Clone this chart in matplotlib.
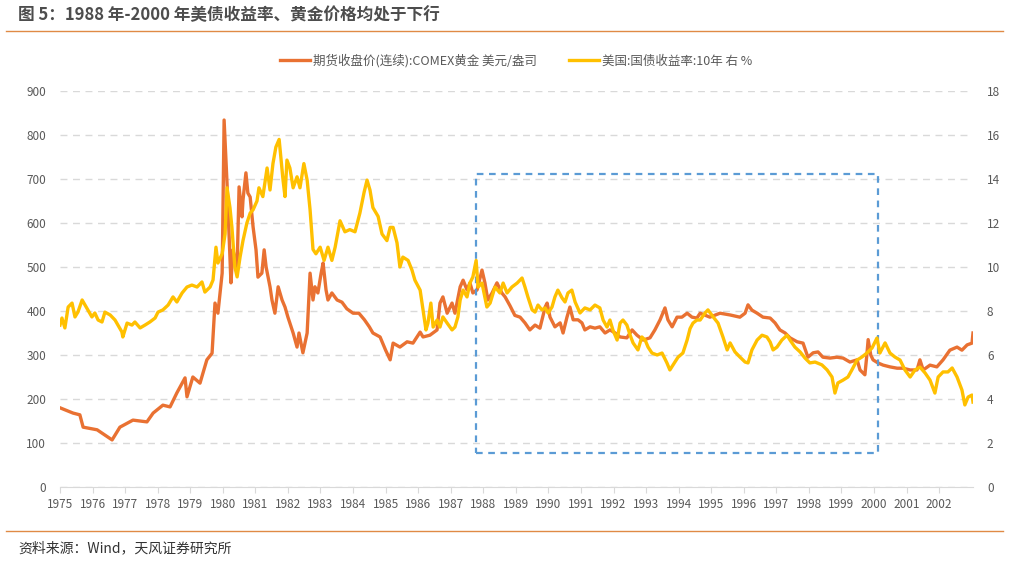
import matplotlib
matplotlib.use("Agg")
import matplotlib.pyplot as plt
from matplotlib.patches import Rectangle

plt.rcParams['font.family'] = ['Noto Sans CJK SC', 'DejaVu Sans']

# COMEX gold, USD/oz (year, value)
gold_t = [1975.00, 1975.40, 1975.61, 1975.71, 1976.14, 1976.60, 1976.84, 1977.24, 1977.67, 1977.86,
          1978.16, 1978.38, 1978.59, 1978.84, 1978.90, 1979.08, 1979.30, 1979.51, 1979.67, 1979.76,
          1979.85, 1979.98, 1980.04, 1980.13, 1980.19, 1980.25, 1980.31, 1980.44, 1980.50, 1980.59,
          1980.62, 1980.71, 1980.77, 1980.84, 1980.93, 1981.02, 1981.08, 1981.20, 1981.27, 1981.33,
          1981.45, 1981.51, 1981.60, 1981.70, 1981.82, 1981.91, 1982.00, 1982.16, 1982.28, 1982.34,
          1982.46, 1982.59, 1982.68, 1982.77, 1982.83, 1982.92, 1983.02, 1983.08, 1983.17, 1983.23,
          1983.35, 1983.51, 1983.66, 1983.81, 1984.00, 1984.18, 1984.35, 1984.50, 1984.61, 1984.83,
          1985.00, 1985.14, 1985.23, 1985.44, 1985.66, 1985.84, 1986.06, 1986.15, 1986.36, 1986.58,
          1986.67, 1986.76, 1986.89, 1987.04, 1987.13, 1987.29, 1987.38, 1987.50, 1987.59, 1987.68,
          1987.81, 1987.96, 1988.05, 1988.14, 1988.27, 1988.42, 1988.57, 1988.67, 1988.82, 1988.97,
          1989.13, 1989.28, 1989.43, 1989.59, 1989.74, 1989.90, 1989.96, 1990.05, 1990.20, 1990.36,
          1990.45, 1990.57, 1990.66, 1990.76, 1990.91, 1991.03, 1991.12, 1991.28, 1991.43, 1991.58,
          1991.74, 1991.89, 1992.05, 1992.20, 1992.41, 1992.57, 1992.72, 1992.91, 1993.12, 1993.27,
          1993.43, 1993.58, 1993.67, 1993.80, 1993.95, 1994.10, 1994.26, 1994.41, 1994.56, 1994.66,
          1994.96, 1995.27, 1995.58, 1995.88, 1996.04, 1996.13, 1996.25, 1996.41, 1996.59, 1996.81,
          1996.96, 1997.11, 1997.27, 1997.42, 1997.64, 1997.82, 1997.97, 1998.13, 1998.28, 1998.43,
          1998.65, 1998.86, 1999.05, 1999.26, 1999.48, 1999.57, 1999.72, 1999.78, 1999.82, 1999.90,
          1999.97, 2000.12, 2000.28, 2000.49, 2000.71, 2000.89, 2001.11, 2001.32, 2001.41, 2001.51,
          2001.72, 2001.93, 2002.12, 2002.33, 2002.55, 2002.70, 2002.86, 2003.01, 2003.04]
gold_v = [180, 168, 164, 136, 130, 107, 136, 152, 148, 168,
          186, 182, 214, 248, 205, 250, 236, 289, 304, 418,
          395, 486, 834, 690, 577, 464, 539, 500, 682, 614,
          652, 714, 668, 659, 591, 539, 477, 486, 539, 500,
          455, 425, 395, 455, 425, 409, 386, 350, 318, 350,
          305, 350, 486, 425, 455, 441, 486, 509, 448, 425,
          441, 425, 420, 405, 395, 395, 380, 364, 350, 341,
          311, 289, 327, 318, 330, 327, 352, 341, 345, 357,
          418, 432, 395, 418, 395, 455, 470, 448, 464, 441,
          448, 493, 464, 425, 441, 464, 441, 432, 412, 390,
          386, 373, 357, 368, 361, 409, 418, 386, 364, 373,
          350, 386, 409, 380, 380, 373, 357, 364, 361, 364,
          350, 357, 350, 341, 339, 357, 345, 334, 339, 357,
          380, 407, 380, 364, 386, 386, 395, 386, 384, 395,
          386, 395, 391, 386, 395, 414, 402, 395, 386, 384,
          373, 357, 350, 339, 330, 327, 295, 305, 307, 295,
          293, 295, 293, 284, 289, 266, 255, 300, 335, 300,
          289, 282, 277, 273, 270, 270, 266, 266, 289, 266,
          277, 273, 289, 311, 318, 311, 323, 327, 350]

# US 10Y treasury yield, % (year, value)
ust_t = [1975.00, 1975.06, 1975.15, 1975.25, 1975.37, 1975.46, 1975.55, 1975.68, 1975.77, 1975.86,
         1975.98, 1976.07, 1976.17, 1976.29, 1976.38, 1976.54, 1976.69, 1976.78, 1976.90, 1976.93,
         1977.06, 1977.21, 1977.30, 1977.46, 1977.61, 1977.76, 1977.92, 1978.01, 1978.16, 1978.32,
         1978.47, 1978.59, 1978.75, 1978.90, 1979.05, 1979.21, 1979.36, 1979.45, 1979.61, 1979.70,
         1979.79, 1979.85, 1979.98, 1980.07, 1980.13, 1980.22, 1980.28, 1980.37, 1980.44, 1980.53,
         1980.62, 1980.74, 1980.84, 1980.93, 1981.05, 1981.11, 1981.23, 1981.36, 1981.45, 1981.54,
         1981.63, 1981.73, 1981.85, 1981.91, 1981.97, 1982.06, 1982.16, 1982.28, 1982.37, 1982.49,
         1982.59, 1982.68, 1982.77, 1982.86, 1982.99, 1983.11, 1983.23, 1983.35, 1983.45, 1983.60,
         1983.75, 1983.90, 1984.06, 1984.21, 1984.34, 1984.43, 1984.52, 1984.61, 1984.77, 1984.89,
         1985.04, 1985.14, 1985.23, 1985.35, 1985.44, 1985.53, 1985.69, 1985.81, 1985.90, 1986.06,
         1986.15, 1986.24, 1986.30, 1986.39, 1986.46, 1986.58, 1986.67, 1986.76, 1986.89, 1987.04,
         1987.13, 1987.22, 1987.29, 1987.38, 1987.50, 1987.59, 1987.68, 1987.78, 1987.84, 1987.96,
         1988.11, 1988.21, 1988.36, 1988.51, 1988.61, 1988.73, 1988.88, 1989.04, 1989.19, 1989.28,
         1989.37, 1989.50, 1989.59, 1989.68, 1989.80, 1989.90, 1989.99, 1990.11, 1990.20, 1990.29,
         1990.42, 1990.51, 1990.60, 1990.72, 1990.82, 1990.97, 1991.12, 1991.28, 1991.43, 1991.58,
         1991.68, 1991.80, 1991.89, 1991.98, 1992.11, 1992.20, 1992.29, 1992.41, 1992.51, 1992.60,
         1992.75, 1992.87, 1992.97, 1993.06, 1993.18, 1993.34, 1993.49, 1993.64, 1993.73, 1993.83,
         1993.98, 1994.13, 1994.26, 1994.35, 1994.44, 1994.56, 1994.66, 1994.81, 1994.90, 1995.06,
         1995.21, 1995.36, 1995.49, 1995.58, 1995.73, 1995.88, 1996.04, 1996.13, 1996.25, 1996.41,
         1996.56, 1996.71, 1996.81, 1996.90, 1997.02, 1997.17, 1997.33, 1997.42, 1997.57, 1997.73,
         1997.88, 1998.03, 1998.19, 1998.40, 1998.56, 1998.71, 1998.80, 1998.89, 1999.05, 1999.20,
         1999.32, 1999.48, 1999.63, 1999.78, 1999.94, 2000.09, 2000.18, 2000.34, 2000.49, 2000.64,
         2000.80, 2000.95, 2001.11, 2001.26, 2001.41, 2001.57, 2001.72, 2001.87, 2001.97, 2002.12,
         2002.27, 2002.40, 2002.55, 2002.70, 2002.79, 2002.89, 2003.01, 2003.04]
ust_v = [7.36, 7.68, 7.23, 8.18, 8.36, 7.73, 7.95, 8.50, 8.27, 8.05,
         7.73, 7.91, 7.59, 7.50, 7.95, 7.82, 7.59, 7.36, 7.05, 6.82,
         7.45, 7.36, 7.50, 7.23, 7.36, 7.50, 7.68, 7.95, 8.05, 8.27,
         8.64, 8.41, 8.82, 9.09, 9.18, 9.09, 9.32, 8.86, 9.09, 9.41,
         10.9, 10.18, 10.6, 11.5, 13.6, 12.7, 11.8, 10.0, 9.55, 10.45,
         11.2, 12.0, 12.45, 12.6, 13.0, 13.6, 13.2, 14.5, 13.5, 14.7,
         15.45, 15.8, 13.95, 13.2, 14.86, 14.5, 13.6, 14.1, 13.6, 14.7,
         13.95, 12.6, 10.8, 10.6, 10.9, 10.3, 10.9, 10.3, 10.9, 12.1,
         11.6, 11.7, 11.6, 12.45, 13.4, 13.95, 13.5, 12.7, 12.3, 11.5,
         11.2, 11.8, 11.8, 11.1, 10.0, 10.45, 10.3, 9.86, 9.4, 8.95,
         8.05, 7.14, 7.45, 8.36, 7.27, 7.59, 7.27, 7.73, 7.45, 7.14,
         7.27, 7.73, 8.5, 8.95, 8.64, 9.27, 9.55, 10.3, 9.09, 9.27,
         8.18, 8.36, 9.09, 8.82, 9.27, 8.82, 9.09, 9.27, 9.5, 9.09,
         8.64, 8.05, 7.95, 8.27, 8.05, 8.14, 7.91, 8.18, 8.64, 8.95,
         8.59, 8.41, 8.82, 8.95, 8.41, 7.91, 8.14, 8.05, 8.27, 8.14,
         7.59, 7.27, 7.59, 7.14, 6.68, 7.45, 7.59, 7.36, 6.9, 6.55,
         6.23, 6.82, 6.68, 6.36, 6.09, 6.0, 6.09, 5.64, 5.32, 5.55,
         5.9, 6.09, 6.68, 7.2, 7.45, 7.59, 7.59, 7.91, 8.05, 7.73,
         7.45, 6.82, 6.23, 6.55, 6.14, 5.91, 5.68, 5.64, 6.23, 6.68,
         6.9, 6.82, 6.59, 6.23, 6.36, 6.68, 6.9, 6.68, 6.36, 6.14,
         5.86, 5.64, 5.68, 5.55, 5.32, 5.0, 4.27, 4.73, 4.86, 5.0,
         5.32, 5.77, 5.91, 6.09, 6.32, 6.77, 6.09, 6.55, 6.09, 5.91,
         5.77, 5.32, 5.0, 5.32, 5.45, 5.18, 4.86, 4.27, 5.0, 5.23,
         5.23, 5.41, 5.0, 4.41, 3.73, 4.09, 4.18, 3.86]

years = list(range(1975, 2003))
title = '图 5：1988 年-2000 年美债收益率、黄金价格均处于下行'
source = '资料来源：Wind，天风证券研究所'
gold_label = '期货收盘价(连续):COMEX黄金 美元/盎司'
ust_label = '美国:国债收益率:10年 右 %'

orange = '#E97132'
yellow = '#FFC000'
grey_txt = '#595959'
grid_c = '#D9D9D9'
rule_c = '#E08A45'

fig = plt.figure(figsize=(10.2, 5.65), dpi=100)
ax1 = fig.add_axes([60 / 1020, 1 - 487 / 565, 913 / 1020, 396 / 565])
ax2 = ax1.twinx()

l1, = ax1.plot(gold_t, gold_v, color=orange, lw=2.4, solid_joinstyle='round', zorder=3)
l2, = ax2.plot(ust_t, ust_v, color=yellow, lw=2.4, solid_joinstyle='round', zorder=3)

ax1.set_xlim(1975, 2003.04)
ax1.set_ylim(0, 900)
ax2.set_ylim(0, 18)
ax1.set_yticks(range(0, 901, 100))
ax2.set_yticks(range(0, 19, 2))
ax1.set_xticks(years)
ax1.set_xticklabels([str(y) for y in years])

ax1.yaxis.grid(True, color=grid_c, ls=(0, (5, 4)), lw=1.0)
ax1.set_axisbelow(True)
for ax in (ax1, ax2):
    for s in ax.spines.values():
        s.set_visible(False)
    ax.tick_params(axis='y', length=0, labelsize=8.5, labelcolor=grey_txt)
ax1.spines['bottom'].set_visible(True)
ax1.spines['bottom'].set_color(grid_c)
ax1.tick_params(axis='x', length=4, color=grid_c, labelsize=8.5, labelcolor=grey_txt, pad=4)
ax1.tick_params(axis='y', pad=10)
ax2.tick_params(axis='y', pad=10)

# highlight box 1988-2000
ax1.add_patch(Rectangle((1987.78, 77), 2000.12 - 1987.78, 711 - 77, fill=False,
                        ec='#5B9BD5', lw=1.6, ls=(0, (3, 2.5)), zorder=4))

fig.legend([l1, l2], [gold_label, ust_label], loc='center', bbox_to_anchor=(516 / 1020, 1 - 61 / 565),
           ncol=2, frameon=False, fontsize=9, labelcolor=grey_txt, handlelength=2.4,
           handletextpad=0.2, columnspacing=2.6)

fig.text(18 / 1020, 1 - 15 / 565, title, fontsize=12, fontweight='bold', color='#4D4D4D', va='center')
fig.add_artist(plt.Line2D([6 / 1020, 1003 / 1020], [1 - 31 / 565] * 2, color=rule_c, lw=1.0))
fig.add_artist(plt.Line2D([6 / 1020, 1003 / 1020], [1 - 531 / 565] * 2, color=rule_c, lw=1.0))
fig.text(18 / 1020, 1 - 548 / 565, source, fontsize=10, color='#333333', va='center')

fig.savefig('out.png', dpi=100)
